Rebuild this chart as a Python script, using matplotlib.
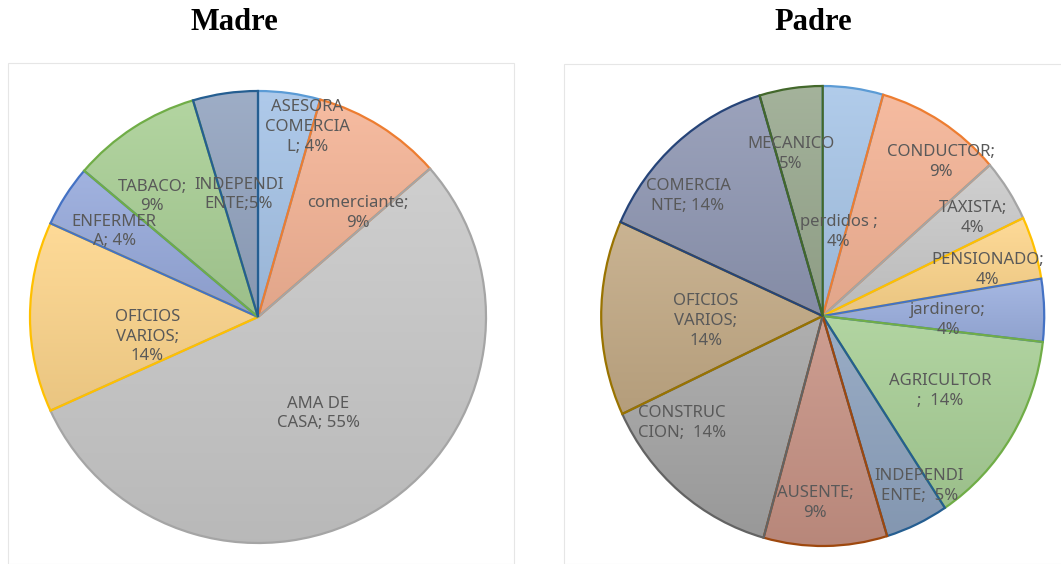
"""
Ocupación de la madre y del padre (dos tortas estilo Excel)
"""
import matplotlib
matplotlib.use('Agg')
import matplotlib.pyplot as plt
import numpy as np
from matplotlib.colors import to_rgb
from matplotlib.patches import Rectangle

# datos Madre (%)
madre_cats = ['ASESORA COMERCIAL', 'comerciante', 'AMA DE CASA', 'OFICIOS VARIOS',
              'ENFERMERA', 'TABACO', 'INDEPENDIENTE']
madre_vals = [4.4, 9.2, 54.6, 13.6, 4.4, 9.2, 4.6]
madre_labels = ['ASESORA\nCOMERCIA\nL; {:.0f}%', 'comerciante;\n{:.0f}%', 'AMA DE\nCASA; {:.0f}%',
                'OFICIOS\nVARIOS;\n{:.0f}%', 'ENFERMER\nA; {:.0f}%', 'TABACO;\n{:.0f}%',
                'INDEPENDI\nENTE;{:.0f}%']

# datos Padre (%)
padre_cats = ['perdidos', 'CONDUCTOR', 'TAXISTA', 'PENSIONADO', 'jardinero', 'AGRICULTOR',
              'INDEPENDIENTE', 'AUSENTE', 'CONSTRUCCION', 'OFICIOS VARIOS', 'COMERCIANTE', 'MECANICO']
padre_vals = [4.4, 9.2, 4.4, 4.4, 4.4, 13.9, 4.6, 9.0, 13.7, 13.7, 13.7, 4.6]
padre_labels = ['perdidos ;\n{:.0f}%', 'CONDUCTOR;\n{:.0f}%', 'TAXISTA;\n{:.0f}%', 'PENSIONADO;\n{:.0f}%',
                'jardinero;\n{:.0f}%', 'AGRICULTOR\n;  {:.0f}%', 'INDEPENDI\nENTE;  {:.0f}%',
                'AUSENTE;\n{:.0f}%', 'CONSTRUC\nCION;  {:.0f}%', 'OFICIOS\nVARIOS;\n{:.0f}%',
                'COMERCIA\nNTE; {:.0f}%', 'MECANICO\n{:.0f}%']

# paleta de Office (bordes) y rellenos claros
excel_colors = ['#5B9BD5', '#ED7D31', '#A5A5A5', '#FFC000', '#4472C4', '#70AD47',
                '#255E91', '#9E480E', '#636363', '#997300', '#264478', '#43682B']
madre_fills = ['#a6c4e8', '#f5b496', '#c9c9c9', '#fed68c', '#97aadc', '#aad096', '#93a4c0']
padre_fills = ['#a8c6e8', '#f5b496', '#cbcbcb', '#fed68c', '#9cb0e0', '#a9d097',
               '#8fa4c0', '#c89385', '#a6a6a6', '#c4ab86', '#9098b4', '#9aaa90']

# posiciones de las etiquetas (en radios de la torta)
madre_label_pos = [(0.216, 0.841), (0.44, 0.46), (0.264, -0.427), (-0.485, -0.088),
                   (-0.63, 0.379), (-0.463, 0.533), (-0.084, 0.542)]
padre_label_pos = [(0.073, 0.365), (0.533, 0.67), (0.677, 0.426), (0.745, 0.2),
                   (0.567, -0.017), (0.53, -0.326), (0.437, -0.739), (-0.035, -0.813),
                   (-0.635, -0.465), (-0.527, -0.022), (-0.608, 0.522), (-0.144, 0.704)]

W, H = 1061, 564


def dibujar_torta(ax, vals, labels, pos, fills):
    bordes = excel_colors[:len(vals)]
    wedges, _ = ax.pie(vals, colors=fills, startangle=90, counterclock=False, radius=1,
                       wedgeprops=dict(linewidth=1.6))
    for w, borde, relleno in zip(wedges, bordes, fills):
        w.set_edgecolor(borde)
        w.set_facecolor('none')
        w.set_zorder(3)
        ext = w.get_path().get_extents()
        c = np.array(to_rgb(relleno))
        arriba = c + (1 - c) * 0.1
        abajo = c * 0.92
        t = np.linspace(0, 1, 64)[:, None]
        grad = arriba * (1 - t) + abajo * t
        img = ax.imshow(grad[:, None, :], extent=[ext.x0, ext.x1, ext.y0, ext.y1],
                        origin='upper', aspect='auto', interpolation='bilinear', zorder=2)
        img.set_clip_path(w)
    for lab, v, (x, y) in zip(labels, vals, pos):
        ax.text(x, y, lab.format(v), ha='center', va='center', fontsize=12,
                color='#595959', family='Noto Sans', linespacing=1.3, zorder=5)
    ax.set_xlim(-1.01, 1.01)
    ax.set_ylim(-1.01, 1.01)
    ax.set_aspect('auto')
    ax.axis('off')


fig = plt.figure(figsize=(W / 100, H / 100), dpi=100)

# cuadros del área de gráfico
fig.patches.append(Rectangle((8 / W, 0), (514 - 8) / W, 1 - 63 / H, transform=fig.transFigure,
                             fill=False, edgecolor='#e6e6e6', linewidth=0.8))
fig.patches.append(Rectangle((564 / W, 0), (W - 564 + 5) / W, 1 - 64 / H, transform=fig.transFigure,
                             fill=False, edgecolor='#e6e6e6', linewidth=0.8))

# Madre
cx, cy, rx, ry = 258, 317, 228, 226
ax1 = fig.add_axes([(cx - rx * 1.01) / W, (H - cy - ry * 1.01) / H, 2 * rx * 1.01 / W, 2 * ry * 1.01 / H])
dibujar_torta(ax1, madre_vals, madre_labels, madre_label_pos, madre_fills)

# Padre
cx, cy, rx, ry = 822.7, 316, 221.5, 230
ax2 = fig.add_axes([(cx - rx * 1.01) / W, (H - cy - ry * 1.01) / H, 2 * rx * 1.01 / W, 2 * ry * 1.01 / H])
dibujar_torta(ax2, padre_vals, padre_labels, padre_label_pos, padre_fills)

fig.text(234 / W, 1 - 22 / H, 'Madre', ha='center', va='center', fontsize=22,
         fontweight='bold', family='Liberation Serif')
fig.text(813 / W, 1 - 22 / H, 'Padre', ha='center', va='center', fontsize=22,
         fontweight='bold', family='Liberation Serif')

fig.savefig('out.png', dpi=100)
